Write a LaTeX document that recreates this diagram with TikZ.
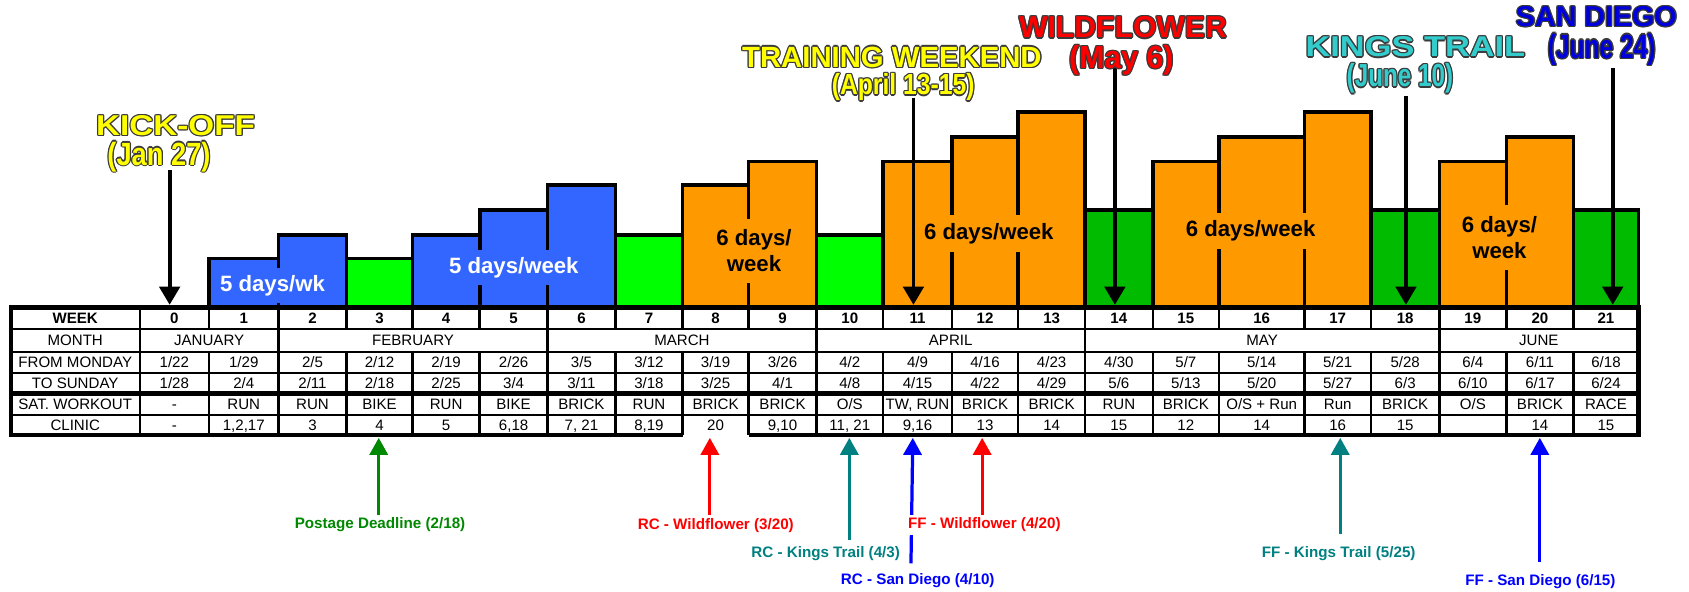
\documentclass[tikz,border=0pt]{standalone}
\usepackage{fontspec}
\usepackage{graphicx}
\setmainfont{Liberation Sans}
\usetikzlibrary{arrows.meta,calc}
\definecolor{barblue}{HTML}{3366FF}
\definecolor{bargreen}{HTML}{00FF00}
\definecolor{barorange}{HTML}{FF9900}
\definecolor{bardkgreen}{HTML}{00BB00}
\definecolor{hlyellow}{HTML}{FFFF00}
\definecolor{hlred}{HTML}{FF0000}
\definecolor{hlcyan}{HTML}{33CCCC}
\definecolor{hlblue}{HTML}{0000DD}
\definecolor{outl}{HTML}{3A3A3A}
\definecolor{lgreen}{HTML}{008800}
\definecolor{lteal}{HTML}{008080}
\definecolor{lred}{HTML}{FF0000}
\definecolor{lblue}{HTML}{0000FF}
\newcommand\headline[5]{%
  \foreach \ang in {0,45,...,315}{\node[hl,font={\fontsize{#4}{#4}\selectfont\bfseries},text=outl] at ($(#2)+(\ang:0.6pt)$) {#5};}%
  \node[hl,font={\fontsize{#4}{#4}\selectfont\bfseries},text=#3] (#1) at (#2) {#5};}
\def\colx{{161.85,226.3,290.1,352.3,414.15,476.8,539.8,602.45,664.3,726.45,788.9,851.75,914.45,976.3,1038.7,1100.9,1171.3,1241.85,1304.5,1367.35,1429.65,1490.9}}
\begin{document}
\begin{tikzpicture}[x=0.5pt,y=-0.5pt,
  bar/.style={draw=black,line width=1.7pt},
  barlbl/.style={inner xsep=2pt,inner ysep=0pt,font=\fontsize{10.3}{12}\selectfont\bfseries,align=center},
  hl/.style={inner sep=0pt},
  cell/.style={inner sep=0pt,font=\fontsize{7}{8}\selectfont,text height=5pt,text depth=0pt},
  hdcell/.style={inner sep=0pt,font=\fontsize{7}{8}\selectfont\bfseries,text height=5pt,text depth=0pt},
  hline/.style={line width=0.9pt},
  vline/.style={line width=1.1pt},
  tborder/.style={line width=2pt},
  toparrow/.style={line width=1.8pt,-{Triangle[length=8.5pt,width=9.5pt]}},
  lowarrow/.style={line width=1.5pt,-{Triangle[length=7.9pt,width=8.4pt]}},
  lowlbl/.style={fill=white,inner xsep=1pt,inner ysep=1.5pt,font=\fontsize{7.05}{8}\selectfont\bfseries},
]
\useasboundingbox (0,0) rectangle (1568,549);
% bars
\foreach \xa/\xb/\tp/\cl in {194/258.6/240/barblue, 258.6/321.6/218/barblue, 321.6/383/240/bargreen, 383/445.3/218/barblue, 445.3/508.3/195/barblue, 508.3/571.3/172/barblue, 571.3/633.6/218/bargreen, 633.6/695/172/barorange, 695/757.9/150/barorange, 757.9/819.9/218/bargreen, 819.9/883.6/150/barorange, 883.6/945.3/127/barorange, 945.3/1007.3/103.7/barorange, 1007.3/1070.1/195/bardkgreen, 1070.1/1131.7/150/barorange, 1131.7/1210.9/127/barorange, 1210.9/1272.8/103.7/barorange, 1272.8/1336.2/195/bardkgreen, 1336.2/1398.5/150/barorange, 1398.5/1460.8/127/barorange, 1460.8/1521/195/bardkgreen}
  \draw[bar,fill=\cl] (\xa,285.6) rectangle (\xb,\tp);
% bar labels
\node[barlbl,fill=barblue,text=white,minimum height=16pt] (lbl1) at (253,265) {5 days/wk};
\node[barlbl,fill=barblue,text=white,minimum height=16.5pt] (lbl2) at (477,248.5) {5 days/week};
\node[barlbl,fill=barorange,minimum height=30pt] (lbl3) at (700,233) {6 days/\\week};
\node[barlbl,fill=barorange,minimum height=17pt] (lbl4) at (918,217) {6 days/week};
\node[barlbl,fill=barorange,minimum height=16.5pt] (lbl5) at (1161,214.5) {6 days/week};
\node[barlbl,fill=barorange,minimum height=30.5pt] (lbl6) at (1392,220.5) {6 days/\\week};
% table lines
\foreach \yy in {305.5,326.5,346.6,385.3} \draw[hline] (10,\yy) -- (1521,\yy);
\draw[tborder] (10,365.2) -- (1521,365.2);
\foreach \xx/\mm in {129.7/1,194/0,258.6/1,321.6/0,383/0,445.3/0,508.3/1,571.3/0,633.6/0,695/0,757.9/1,819.9/0,883.6/0,945.3/0,1007.3/1,1070.1/0,1131.7/0,1210.9/0,1272.8/0,1336.2/1,1398.5/0,1460.8/0}{
  \ifnum\mm=1
    \draw[vline] (\xx,285.6) -- (\xx,404);
  \else
    \draw[vline] (\xx,285.6) -- (\xx,305.5);
    \draw[vline] (\xx,326.5) -- (\xx,404);
  \fi}
\draw[tborder] (633.6,404) -- (10,404) -- (10,285.6) -- (1521,285.6) -- (1521,404) -- (695,404);
% row labels
\node[hdcell] (rWeek) at (69.85,295.55) {WEEK};
\node[cell] (rMonth) at (69.85,316) {MONTH};
\node[cell] (rFrom) at (69.85,336.55) {FROM MONDAY};
\node[cell] (rTo) at (69.85,355.9) {TO SUNDAY};
\node[cell] (rSat) at (69.85,375.25) {SAT. WORKOUT};
\node[cell] (rClinic) at (69.85,394.65) {CLINIC};
% months
\node[cell] (mJan) at (194.15,316) {JANUARY};
\node[cell] (mFeb) at (383.45,316) {FEBRUARY};
\node[cell] (mMar) at (633.1,316) {MARCH};
\node[cell] (mApr) at (882.6,316) {APRIL};
\node[cell] (mMay) at (1171.75,316) {MAY};
\node[cell] (mJun) at (1428.6,316) {JUNE};
% weeks
\foreach \i in {0,...,21}{\pgfmathsetmacro\cx{\colx[\i]}\node[hdcell] (wk\i) at (\cx,295.55) {\i};}
\foreach \tx [count=\i from 0] in {1/22,1/29,2/5,2/12,2/19,2/26,3/5,3/12,3/19,3/26,4/2,4/9,4/16,4/23,4/30,5/7,5/14,5/21,5/28,6/4,6/11,6/18}{\pgfmathsetmacro\cx{\colx[\i]}\node[cell] (fr\i) at (\cx,336.55) {\tx};}
\foreach \tx [count=\i from 0] in {1/28,2/4,2/11,2/18,2/25,3/4,3/11,3/18,3/25,4/1,4/8,4/15,4/22,4/29,5/6,5/13,5/20,5/27,6/3,6/10,6/17,6/24}{\pgfmathsetmacro\cx{\colx[\i]}\node[cell] (to\i) at (\cx,355.9) {\tx};}
\foreach \tx [count=\i from 0] in {-,RUN,RUN,BIKE,RUN,BIKE,BRICK,RUN,BRICK,BRICK,O/S,{TW, RUN},BRICK,BRICK,RUN,BRICK,O/S + Run,Run,BRICK,O/S,BRICK,RACE}{\pgfmathsetmacro\cx{\colx[\i]}\node[cell] (sat\i) at (\cx,375.25) {\tx};}
\foreach \tx [count=\i from 0] in {-,{1,2,17},3,4,5,{6,18},{7, 21},{8,19},20,{9,10},{11, 21},{9,16},13,14,15,12,14,16,15,{},14,15}{\pgfmathsetmacro\cx{\colx[\i]}\node[cell] (cl\i) at (\cx,394.65) {\tx};}
% top arrows
\coordinate (kT) at (157.5,158); \coordinate (kH) at (157.5,283);
\coordinate (twT) at (848,91); \coordinate (twH) at (848,283);
\coordinate (wfT) at (1035,63.5); \coordinate (wfH) at (1035,283);
\coordinate (ktT) at (1305.2,89); \coordinate (ktH) at (1305.2,283);
\coordinate (sdT) at (1497.2,63); \coordinate (sdH) at (1497.2,283);
\draw[toparrow] (kT) -- (kH);
\draw[toparrow] (twT) -- (twH);
\draw[toparrow] (wfT) -- (wfH);
\draw[toparrow] (ktT) -- (ktH);
\draw[toparrow] (sdT) -- (sdH);
% lower arrows
\coordinate (pT) at (351.6,481); \coordinate (pH) at (351.6,406.5);
\coordinate (rwT) at (659,482); \coordinate (rwH) at (659,406.5);
\coordinate (rkT) at (788.5,501.3); \coordinate (rkH) at (788.5,406.5);
\coordinate (rsT) at (845.7,523); \coordinate (rsH) at (847.4,406.5);
\coordinate (fwT) at (911.8,479.6); \coordinate (fwH) at (911.8,406.5);
\coordinate (fkT) at (1244.2,495.8); \coordinate (fkH) at (1244.2,406.5);
\coordinate (fsT) at (1429.5,521.4); \coordinate (fsH) at (1429.5,406.5);
\draw[lowarrow,draw=lgreen,fill=lgreen] (pT) -- (pH);
\draw[lowarrow,draw=lred,fill=lred] (rwT) -- (rwH);
\draw[lowarrow,draw=lteal,fill=lteal] (rkT) -- (rkH);
\draw[lowarrow,draw=lblue,fill=lblue] (rsT) -- (rsH);
\draw[lowarrow,draw=lred,fill=lred] (fwT) -- (fwH);
\draw[lowarrow,draw=lteal,fill=lteal] (fkT) -- (fkH);
\draw[lowarrow,draw=lblue,fill=lblue] (fsT) -- (fsH);
% lower labels
\node[lowlbl,text=lgreen] (lPost) at (352.8,487.4) {Postage Deadline (2/18)};
\node[lowlbl,text=lred] (lRCWF) at (664.5,487.5) {RC - Wildflower (3/20)};
\node[lowlbl,text=lteal] (lRCKT) at (766.5,513.7) {RC - Kings Trail (4/3)};
\node[lowlbl,text=lblue] (lRCSD) at (852,539.4) {RC - San Diego (4/10)};
\node[lowlbl,text=lred] (lFFWF) at (913.8,487.4) {FF - Wildflower (4/20)};
\node[lowlbl,text=lteal] (lFFKT) at (1242.8,513.7) {FF - Kings Trail (5/25)};
\node[lowlbl,text=lblue] (lFFSD) at (1430,540) {FF - San Diego (6/15)};
% headlines
\headline{hKick}{163,116.5}{hlyellow}{13.3}{\scalebox{1.16}[1]{KICK-OFF}}
\headline{hKickD}{147.6,145.5}{hlyellow}{14.9}{\scalebox{0.85}[1]{(Jan 27)}}
\headline{hTW}{828,53}{hlyellow}{13.6}{TRAINING WEEKEND}
\headline{hTWD}{838.5,81}{hlyellow}{13.5}{\scalebox{0.85}[1]{(April 13-15)}}
\headline{hWF}{1042.5,25.5}{hlred}{14}{WILDFLOWER}
\headline{hWFD}{1041,56}{hlred}{14.8}{\scalebox{0.95}[1]{(May 6)}}
\headline{hKT}{1314,43.5}{hlcyan}{13.3}{\scalebox{1.2}[1]{KINGS TRAIL}}
\headline{hKTD}{1299.6,73}{hlcyan}{14.8}{\scalebox{0.76}[1]{(June 10)}}
\headline{hSD}{1482,15.5}{hlblue}{13.3}{SAN DIEGO}
\headline{hSDD}{1487,46}{hlblue}{15.6}{\scalebox{0.73}[1]{(June 24)}}
\end{tikzpicture}
\end{document}
